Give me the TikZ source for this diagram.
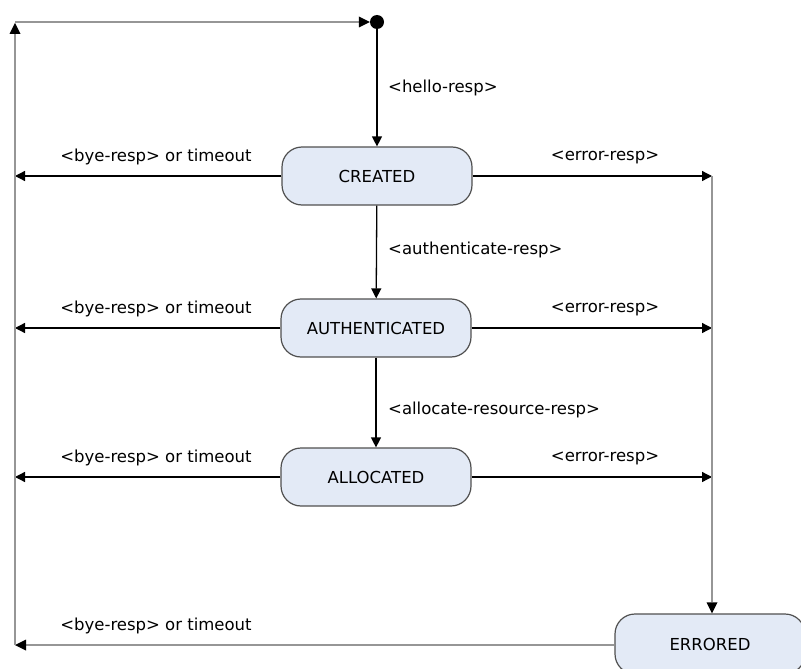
\documentclass[tikz,border=0pt]{standalone}
\usepackage{fontspec}
\setmainfont{DejaVu Sans}
\usetikzlibrary{arrows.meta}
\definecolor{nodefill}{RGB}{227,234,246}
\definecolor{nodeborder}{RGB}{80,80,80}
\definecolor{frame}{RGB}{150,150,150}
\begin{document}
\begin{tikzpicture}[x=1pt,y=-1pt,
  state/.style={draw=nodeborder,line width=1.2pt,fill=nodefill,rounded corners=20pt,
    minimum width=190pt,minimum height=58pt,inner sep=0pt,font=\fontsize{16.5}{19}\selectfont},
  lbl/.style={font=\fontsize{16.5}{19}\selectfont,inner sep=0pt},
  conn/.style={line width=1.3pt,draw=black,-{Triangle[length=10pt,width=10pt]}},
  fconn/.style={line width=2.5pt,draw=frame,-{Triangle[length=11pt,width=11pt,color=black,line width=0pt]}},
  framel/.style={line width=2.5pt,draw=frame}]
\useasboundingbox (0,0) rectangle (801,669);
\begin{scope}
\clip (0,0) rectangle (801,669);
\node[circle,fill=black,minimum size=14pt,inner sep=0pt] (start) at (377,22) {};
\node[state] (created) at (377,176) {CREATED};
\node[state] (auth) at (376,328) {AUTHENTICATED};
\node[state] (alloc) at (376,477) {ALLOCATED};
\node[state,minimum height=60pt] (err) at (710,644) {ERRORED};

\coordinate (L1) at (15,176);
\coordinate (L2) at (15,328);
\coordinate (L3) at (15,477);
\coordinate (L4) at (15,645);
\coordinate (R1) at (712,176);
\coordinate (R2) at (712,328);
\coordinate (R3) at (712,477);
\coordinate (TL) at (15,22);
\coordinate (TLa) at (15,23);

% main flow
\draw[conn] (start) -- (created);
\draw[conn] (created) -- (auth);
\draw[conn] (auth) -- (alloc);

% left arrows
\draw[conn] (created.west) -- (L1);
\draw[conn] (auth.west) -- (L2);
\draw[conn] (alloc.west) -- (L3);
\draw[fconn] (err.west |- L4) -- (L4);

% right arrows
\draw[conn] (created.east) -- (R1);
\draw[conn] (auth.east) -- (R2);
\draw[conn] (alloc.east) -- (R3);
\draw[framel] (R1) -- (R3);
\draw[fconn] (R3) -- (err.north -| R3);

% frame loop
\draw[fconn] (L4) -- (TLa);
\draw[fconn] (TL) -- (start);

% labels
\node[lbl,anchor=west] (l0) at (388,88) {<hello-resp>};
\node[lbl,anchor=west] (l1) at (388,250) {<authenticate-resp>};
\node[lbl,anchor=west] (l2) at (388,410) {<allocate-resource-resp>};
\node[lbl] (b1) at (156,157) {<bye-resp> or timeout};
\node[lbl] (b2) at (156,309) {<bye-resp> or timeout};
\node[lbl] (b3) at (156,458) {<bye-resp> or timeout};
\node[lbl] (b4) at (156,626) {<bye-resp> or timeout};
\node[lbl] (e1) at (605,157) {<error-resp>};
\node[lbl] (e2) at (605,309) {<error-resp>};
\node[lbl] (e3) at (605,458) {<error-resp>};
\end{scope}
\end{tikzpicture}
\end{document}
